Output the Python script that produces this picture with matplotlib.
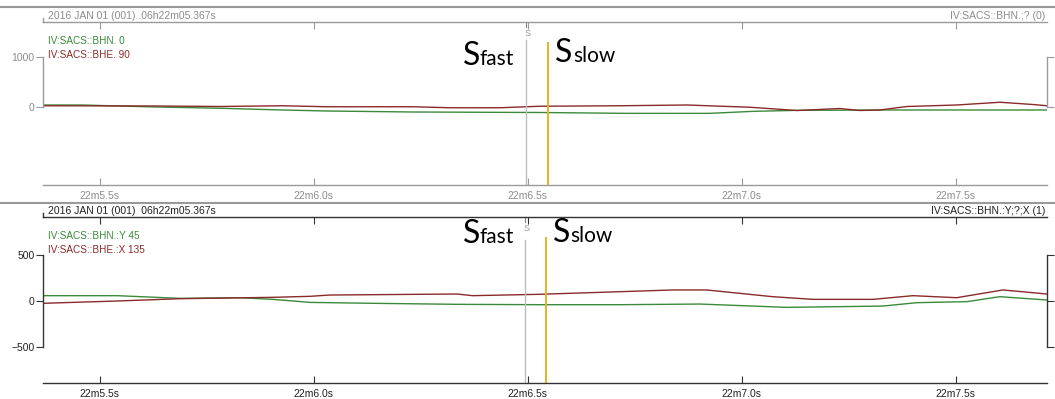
import matplotlib
matplotlib.use("Agg")
import matplotlib.pyplot as plt
from matplotlib.lines import Line2D
from matplotlib.transforms import blended_transform_factory

plt.rcParams['font.family'] = ['Liberation Sans', 'DejaVu Sans']

# ---------------- data ----------------
xlim = (5.367, 7.713)
xticks = [5.5, 6.0, 6.5, 7.0, 7.5]
xticklabels = ["22m5.5s", "22m6.0s", "22m6.5s", "22m7.0s", "22m7.5s"]

# panel 1 (BHN 0 / BHE 90)
p1_green_t = [5.367, 5.460, 5.523, 5.633, 5.780, 5.928, 6.030, 6.231, 6.528, 6.731,
              6.925, 7.026, 7.129, 7.322, 7.713]
p1_green_v = [40, 40, 25, 0, -25, -60, -80, -100, -110, -127, -127, -87, -67, -60, -60]
p1_red_t = [5.367, 5.633, 5.780, 5.928, 6.030, 6.231, 6.318, 6.435, 6.528, 6.715,
            6.872, 7.019, 7.129, 7.229, 7.276, 7.322, 7.386, 7.502, 7.603, 7.680, 7.713]
p1_red_v = [25, 20, 10, 25, 5, 5, -15, -15, 15, 25, 40, -5, -70, -30, -70, -60, 10, 40, 95, 50, 25]

# panel 2 (BHN Y 45 / BHE X 135)
p2_green_t = [5.367, 5.540, 5.687, 5.827, 5.904, 5.991, 6.138, 6.334, 6.528, 6.715,
              6.902, 7.105, 7.329, 7.409, 7.526, 7.603, 7.713]
p2_green_v = [58, 58, 29, 36, 18, -15, -25, -36, -40, -40, -33, -69, -55, -18, -7, 47, 11]
p2_red_t = [5.367, 5.540, 5.687, 5.904, 5.991, 6.037, 6.334, 6.371, 6.528, 6.839,
            6.918, 7.072, 7.166, 7.306, 7.400, 7.502, 7.610, 7.713]
p2_red_v = [-25, 0, 25, 40, 51, 65, 76, 58, 73, 120, 120, 47, 18, 18, 58, 36, 120, 76]

panels = [
    dict(top=22, bottom=185, ylim=(-1560, 1700), yticks=[0, 1000],
         green=(p1_green_t, p1_green_v), red=(p1_red_t, p1_red_v),
         labels=["IV:SACS::BHN. 0", "IV:SACS::BHE. 90"],
         header="2016 JAN 01 (001) .06h22m05.367s", right="IV:SACS::BHN.;? (0)",
         s_pick=6.495, slow_pick=6.547, fast_txt=(6.388, 840), slow_txt=(6.605, 900),
         fg="#8c8c8c", spine="#9a9a9a", sep=7, gray_top=0.89, orange_top=0.87),
    dict(top=217, bottom=383, ylim=(-891, 913), yticks=[-500, 0, 500],
         green=(p2_green_t, p2_green_v), red=(p2_red_t, p2_red_v),
         labels=["IV:SACS::BHN.:Y 45", "IV:SACS::BHE.:X 135"],
         header="2016 JAN 01 (001)  06h22m05.367s", right="IV:SACS::BHN.:Y;?;X (1)",
         s_pick=6.493, slow_pick=6.542, fast_txt=(6.388, 630), slow_txt=(6.600, 640),
         fg="#222222", spine="#333333", sep=203, gray_top=0.86, orange_top=0.875),
]

GREEN = "#3a8a3a"
RED = "#8b2a2a"
ORANGE = "#e6b325"

W, H = 1055, 399
fig = plt.figure(figsize=(W / 100, H / 100), dpi=100)

L, R = 43, 1047
for p in panels:
    ax = fig.add_axes([L / W, 1 - p["bottom"] / H, (R - L) / W, (p["bottom"] - p["top"]) / H])
    ax.set_xlim(*xlim)
    ax.set_ylim(*p["ylim"])
    fg = p["fg"]
    ax.plot(*p["green"], color=GREEN, lw=1)
    ax.plot(*p["red"], color=RED, lw=1)

    # picks
    ax.axvline(p["s_pick"], ymin=0, ymax=p["gray_top"], color="#bdbdbd", lw=1)
    ax.axvline(p["slow_pick"], ymin=0, ymax=p["orange_top"], color=ORANGE, lw=1.4)
    bt = blended_transform_factory(ax.transData, ax.transAxes)
    ax.text(p["s_pick"] + 0.004, 0.93, "S", transform=bt,
            fontsize=6.5, color="#999999", ha="center", va="center")
    ax.plot([p["s_pick"], p["s_pick"]], [1.0, 0.97], color="#888888", lw=0.8,
            transform=bt, clip_on=False)

    fx, fy = p["fast_txt"]
    sx, sy = p["slow_txt"]
    ax.text(fx, fy, "S", fontsize=23, family="Lato", ha="right", va="baseline", color="black")
    ax.text(fx, fy, "fast", fontsize=15, family="Lato", ha="left", va="baseline", color="black")
    ax.text(sx, sy, "S", fontsize=23, family="Lato", ha="right", va="baseline", color="black")
    ax.text(sx, sy, "slow", fontsize=15, family="Lato", ha="left", va="baseline", color="black")

    # axes styling
    for s in ["top", "bottom", "left", "right"]:
        ax.spines[s].set_color(p["spine"])
        ax.spines[s].set_linewidth(1)
    ax.spines["left"].set_bounds(min(p["yticks"]), max(p["yticks"]))
    ax.spines["right"].set_bounds(min(p["yticks"]), max(p["yticks"]))
    ax.set_xticks(xticks)
    ax.set_xticklabels(xticklabels)
    ax.set_yticks(p["yticks"])
    ax.tick_params(axis="x", which="both", direction="in", top=True, bottom=True, length=5,
                   color=p["spine"], labelcolor=fg, labelsize=7.5, pad=4)
    ax.tick_params(axis="y", direction="out", left=True, right=True, labelright=False,
                   length=5, color=p["spine"], labelcolor=fg, labelsize=7.5, pad=1)
    ax.set_facecolor("none")

    # channel labels
    ax.text(5 / (R - L), 1 - 19 / (p["bottom"] - p["top"]),
            p["labels"][0], transform=ax.transAxes, color=GREEN, fontsize=7.2, va="center")
    ax.text(5 / (R - L), 1 - 33 / (p["bottom"] - p["top"]),
            p["labels"][1], transform=ax.transAxes, color=RED, fontsize=7.2, va="center")

    # header text
    fig.text(48 / W, 1 - (p["top"] - 6) / H, p["header"], fontsize=7.5, color=fg, va="center")
    fig.text(1045 / W, 1 - (p["top"] - 6) / H, p["right"], fontsize=7.5, color=fg,
             va="center", ha="right")
    fig.add_artist(Line2D([L / W, L / W], [1 - p["top"] / H, 1 - (p["top"] - 4) / H],
                          color=p["spine"], lw=1))
    # separator
    fig.add_artist(Line2D([0, 1], [1 - p["sep"] / H, 1 - p["sep"] / H], color="#999999", lw=1.5))

fig.savefig("out.png", dpi=100, facecolor="white")
